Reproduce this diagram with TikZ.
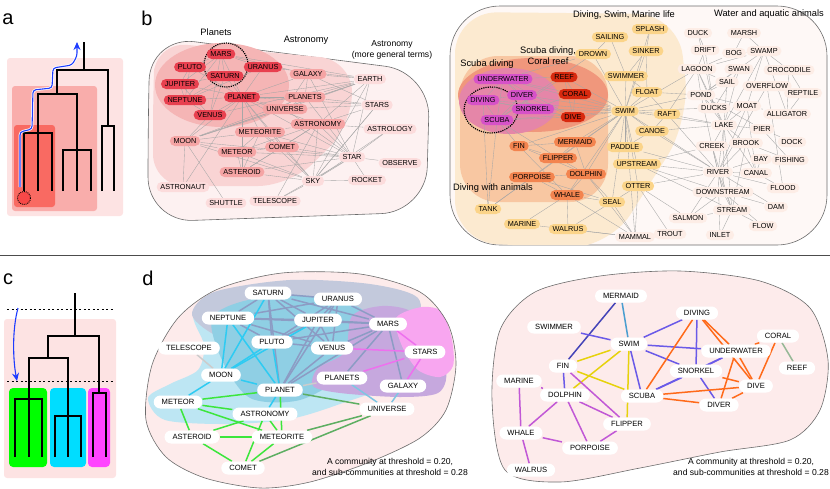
\documentclass[tikz,border=0pt]{standalone}
\usepackage{fontspec}
\setmainfont{Liberation Sans}
\usetikzlibrary{arrows.meta}

\pgfdeclarelayer{regions}
\pgfdeclarelayer{links}
\pgfsetlayers{regions,links,main}

\definecolor{aOuter}{HTML}{FDE3E3}
\definecolor{aMid}{HTML}{F9ADAB}
\definecolor{aInner}{HTML}{F96A62}
\definecolor{aLeaf}{HTML}{F84848}
\definecolor{arrowblue}{HTML}{1E3CFF}
\definecolor{cGreen}{HTML}{00FF00}
\definecolor{cCyan}{HTML}{00DDFF}
\definecolor{cMag}{HTML}{FF44FF}
\definecolor{plDark}{HTML}{E8404F}
\definecolor{plMid}{HTML}{F5A4A4}
\definecolor{plLight}{HTML}{FCDCDC}
\definecolor{rgOuterL}{HTML}{FDF1F1}
\definecolor{rgMidL}{HTML}{F9D4D4}
\definecolor{rgDarkL}{HTML}{F5B5B5}
\definecolor{scMag}{HTML}{D652C8}
\definecolor{scRed}{HTML}{D8290F}
\definecolor{scOrange}{HTML}{F3844F}
\definecolor{scPeach}{HTML}{FBD489}
\definecolor{scLight}{HTML}{FDEDE6}
\definecolor{rgOuterR}{HTML}{FEF8F6}
\definecolor{rgSwim}{HTML}{FCEAD0}
\definecolor{rgAnimal}{HTML}{F8C7A2}
\definecolor{rgReef}{HTML}{F0977C}
\definecolor{rgScuba}{HTML}{E586A8}
\definecolor{dPink}{HTML}{FDEBEB}
\definecolor{dCyan}{HTML}{BDE6F3}
\definecolor{dBlue}{HTML}{8FCFE4}
\definecolor{dGray}{HTML}{C3C9DC}
\definecolor{dMag}{HTML}{F8A6F0}
\definecolor{dPurple}{HTML}{C6A8DE}
\definecolor{eGrayBlue}{HTML}{8C9CC4}
\definecolor{eCyan}{HTML}{2ECBF2}
\definecolor{eLtBlue}{HTML}{7EC6E2}
\definecolor{eGreen}{HTML}{3CE63C}
\definecolor{eDkGreen}{HTML}{5DAE62}
\definecolor{eMag}{HTML}{EE70EE}
\definecolor{eViolet}{HTML}{6A5AE8}
\definecolor{eYellow}{HTML}{E6D20C}
\definecolor{eOrange}{HTML}{FF6A1A}
\definecolor{eMauve}{HTML}{C158D6}
\definecolor{eSteel}{HTML}{4A9ED0}
\definecolor{eNavy}{HTML}{4444B8}
\definecolor{eSage}{HTML}{96B896}

\tikzset{
  wnode/.style={font=\fontsize{7.3}{8}\selectfont, rounded corners=5pt, inner xsep=3.8pt, inner ysep=2.4pt, text height=5.2pt, text depth=0pt},
  planetnode/.style={wnode, fill=plDark},
  astronode/.style={wnode, fill=plMid},
  skynode/.style={wnode, fill=plLight},
  scubanode/.style={wnode, fill=scMag},
  reefnode/.style={wnode, fill=scRed},
  animalnode/.style={wnode, fill=scOrange},
  swimnode/.style={wnode, fill=scPeach},
  waternode/.style={wnode, fill=scLight},
  dnode/.style={font=\fontsize{7.6}{9}\selectfont, fill=white, rounded corners=6.5pt, inner xsep=8pt, inner ysep=3.7pt, text height=5.6pt, text depth=0pt},
  link/.style={draw=gray!70, line width=0.35pt},
  blob/.style={draw=gray!85!black, line width=0.6pt},
  lbl/.style={font=\fontsize{9.3}{11}\selectfont, align=center, inner sep=0pt},
  letter/.style={font=\fontsize{20}{22}\selectfont, inner sep=0pt},
  tree/.style={line width=2pt},
  cut/.style={line width=0.8pt, dash pattern=on 2pt off 2.5pt},
  thin link/.style={line width=1.5pt},
}

\begin{document}
\begin{tikzpicture}[x=1pt, y=-1pt]
\useasboundingbox (0,0) rectangle (830,488);

% ---------------- a
\node[letter] (la) at (8,19) {a};
\fill[aOuter, rounded corners=3pt] (7,58) rectangle (123,216);
\fill[aMid, rounded corners=3pt] (12,86) rectangle (97,211);
\fill[aInner, rounded corners=3pt] (14,125) rectangle (55,207);
\draw[tree] (84,42) -- (84,70);
\draw[tree] (57,94) -- (57,70) -- (108,70) -- (108,126);
\draw[tree] (102,191) -- (102,126) -- (114,126) -- (114,191);
\draw[tree] (38,133) -- (38,94) -- (77,94) -- (77,191);
\draw[tree] (24,191) -- (24,133) -- (52,133) -- (52,191);
\draw[tree] (38,133) -- (38,191);
\draw[tree] (63,191) -- (63,150) -- (91,150) -- (91,191);
\draw[densely dotted, line width=0.9pt, fill=aLeaf] (24,198) circle (6.5);
\draw[white, line width=2.6pt, rounded corners=3pt] (20,187) -- (20,132) -- (32,129) -- (33,90) -- (52,88) -- (53,68) -- (72,65) -- (77,56) -- (77,49);
\draw[arrowblue, line width=1.1pt, rounded corners=3pt, -{Stealth[length=8pt, width=7pt]}] (20,187) -- (20,132) -- (32,129) -- (33,90) -- (52,88) -- (53,68) -- (72,65) -- (77,56) -- (77,42);

% ---------------- c
\draw[gray!60!black, line width=1pt] (0,255) -- (830,255);
\node[letter] (lc) at (8,279) {c};
\fill[aOuter, rounded corners=3pt] (4,319) rectangle (116,478);
\fill[cGreen, rounded corners=4pt] (9,388) rectangle (47,467);
\fill[cCyan, rounded corners=4pt] (50,388) rectangle (86,467);
\fill[cMag, rounded corners=4pt] (88,388) rectangle (110,467);
\draw[cut] (7,309) -- (113,309);
\draw[cut] (7,381) -- (113,381);
\draw[tree] (75,293) -- (75,336);
\draw[tree] (48,358) -- (48,336) -- (99,336) -- (99,393);
\draw[tree] (93,457) -- (93,393) -- (106,393) -- (106,457);
\draw[tree] (68,416) -- (68,358) -- (29,358) -- (29,399);
\draw[tree] (55,457) -- (55,416) -- (81,416) -- (81,457);
\draw[tree] (68,416) -- (68,457);
\draw[tree] (15,457) -- (15,399) -- (42,399) -- (42,457);
\draw[tree] (29,399) -- (29,457);
\draw[arrowblue, line width=1.1pt, -{Stealth[length=8pt, width=7pt]}] (18,308) .. controls (12,330) and (13,360) .. (17,381);

% ---------------- b, astronomy
\node[letter] (lb) at (147,18) {b};
\begin{pgfonlayer}{regions}
  \path[fill=rgOuterL, blob, rounded corners=45pt] (148,130) -- (150,36) -- (430,72) -- (426,212) -- (148,222) -- cycle;
  \fill[rgMidL, rounded corners=32pt] (153,100) -- (155,42) -- (352,60) -- (352,125) -- (290,186) -- (153,186) -- cycle;
  \fill[rgDarkL] (222,85) ellipse (67 and 42);
  \draw[densely dotted, line width=1.2pt] (226,65) circle (22);
\end{pgfonlayer}
\node[lbl] (tplanets) at (216,32) {Planets};
\node[lbl] (tastro) at (306,40) {Astronomy};
\node[lbl, font=\fontsize{8.6}{10.5}\selectfont] (tgeneral) at (392,50) {Astronomy\\(more general terms)};

\node[planetnode] (mars) at (221,54) {MARS};
\node[planetnode] (pluto) at (190,67) {PLUTO};
\node[planetnode] (saturn) at (225,76) {SATURN};
\node[planetnode] (uranus) at (263,67) {URANUS};
\node[planetnode] (jupiter) at (180,84) {JUPITER};
\node[planetnode] (neptune) at (185,100) {NEPTUNE};
\node[planetnode] (planet) at (242,97) {PLANET};
\node[planetnode] (venus) at (210,115) {VENUS};
\node[astronode] (galaxy) at (308,74) {GALAXY};
\node[astronode] (planets) at (305,97) {PLANETS};
\node[astronode] (universe) at (285,109) {UNIVERSE};
\node[astronode] (astronomy) at (318,124) {ASTRONOMY};
\node[astronode] (meteorite) at (260,132) {METEORITE};
\node[astronode] (moon) at (185,141) {MOON};
\node[astronode] (comet) at (282,147) {COMET};
\node[astronode] (meteor) at (237,152) {METEOR};
\node[astronode] (asteroid) at (242,172) {ASTEROID};
\node[skynode] (earth) at (370,79) {EARTH};
\node[skynode] (stars) at (377,105) {STARS};
\node[skynode] (astrology) at (390,129) {ASTROLOGY};
\node[skynode] (star) at (352,157) {STAR};
\node[skynode] (observe) at (400,163) {OBSERVE};
\node[skynode] (sky) at (313,181) {SKY};
\node[skynode] (rocket) at (367,180) {ROCKET};
\node[skynode] (astronaut) at (183,187) {ASTRONAUT};
\node[skynode] (shuttle) at (226,203) {SHUTTLE};
\node[skynode] (telescope) at (275,201) {TELESCOPE};

\begin{pgfonlayer}{links}
\foreach \a/\b in {mars/saturn, mars/pluto, mars/uranus, mars/jupiter, mars/planet, mars/neptune, mars/venus, mars/earth, mars/galaxy,
  saturn/pluto, saturn/uranus, saturn/jupiter, saturn/neptune, saturn/planet, saturn/venus,
  pluto/jupiter, pluto/neptune, pluto/planet, uranus/planet, uranus/neptune, uranus/earth,
  jupiter/neptune, jupiter/planet, jupiter/venus, neptune/planet, neptune/venus,
  venus/planet, venus/earth, venus/moon,
  planet/earth, planet/stars, planet/galaxy, planet/universe, planet/planets, planet/meteorite, planet/comet, planet/astronomy, planet/moon, planet/star, planet/sky, planet/asteroid,
  galaxy/earth, galaxy/stars, galaxy/universe, galaxy/planets, galaxy/star,
  planets/earth, planets/stars, planets/universe, planets/star, planets/moon,
  universe/earth, universe/stars, universe/star, universe/moon,
  earth/moon, earth/star, earth/sky, earth/astronomy, stars/astronomy, stars/sky,
  astronomy/star, astronomy/sky, astronomy/comet, astronomy/meteor, astronomy/meteorite, astronomy/asteroid, astronomy/astrology,
  meteorite/meteor, meteorite/comet, meteorite/asteroid, meteorite/moon, meteorite/sky, meteorite/star,
  moon/meteor, moon/astronaut, moon/shuttle, moon/star, moon/sky, moon/earth,
  comet/meteor, comet/asteroid, comet/star, comet/sky, meteor/asteroid, meteor/star, meteor/sky,
  asteroid/star, asteroid/sky, star/sky, star/observe, star/rocket, star/telescope, star/astrology,
  sky/rocket, sky/telescope, sky/stars, sky/astrology, astronaut/planet, telescope/astronomy}
  \draw[link] (\a) -- (\b);
\end{pgfonlayer}

% ---------------- b, water
\begin{pgfonlayer}{regions}
  \path[fill=rgOuterR, blob, rounded corners=50pt] (450,130) -- (450,6) -- (827,6) -- (827,245) -- (450,245) -- cycle;
  \begin{scope}
    \clip[rounded corners=50pt] (450,130) -- (450,6) -- (827,6) -- (827,245) -- (450,245) -- cycle;
    \fill[rgSwim, rounded corners=42pt] (455,130) -- (455,12) -- (678,14) -- (690,120) -- (608,250) -- (455,242) -- cycle;
  \end{scope}
  \fill[rgAnimal, rounded corners=38pt] (460,120) -- (460,56) -- (608,56) -- (608,202) -- (460,202) -- cycle;
  \fill[rgReef] (533,95) ellipse (75 and 37);
  \fill[rgScuba] (509,101) ellipse (50 and 33);
  \draw[densely dotted, line width=1.2pt] (491,110) ellipse (27 and 23);
\end{pgfonlayer}
\node[lbl] (tswim) at (624,15) {Diving, Swim, Marine life};
\node[lbl] (twater) at (769,14) {Water and aquatic animals};
\node[lbl] (treef) at (548,56) {Scuba diving,\\Coral reef};
\node[lbl] (tscuba) at (487,64) {Scuba diving};
\node[lbl] (tanimals) at (493,188) {Diving with animals};

\node[scubanode] (underwater) at (503,79) {UNDERWATER};
\node[scubanode] (diver) at (522,95) {DIVER};
\node[scubanode] (diving) at (483,100) {DIVING};
\node[scubanode] (snorkel) at (533,109) {SNORKEL};
\node[scubanode] (scuba) at (497,120) {SCUBA};
\node[reefnode] (reef) at (564,77) {REEF};
\node[reefnode] (coral) at (575,94) {CORAL};
\node[reefnode] (dive) at (573,117) {DIVE};
\node[animalnode] (fin) at (519,146) {FIN};
\node[animalnode] (mermaid) at (575,142) {MERMAID};
\node[animalnode] (flipper) at (558,158) {FLIPPER};
\node[animalnode] (porpoise) at (532,177) {PORPOISE};
\node[animalnode] (dolphin) at (586,174) {DOLPHIN};
\node[animalnode] (whale) at (567,195) {WHALE};
\node[swimnode] (sailing) at (610,37) {SAILING};
\node[swimnode] (drown) at (593,54) {DROWN};
\node[swimnode] (splash) at (650,29) {SPLASH};
\node[swimnode] (sinker) at (646,51) {SINKER};
\node[swimnode] (swimmer) at (626,76) {SWIMMER};
\node[swimnode] (float) at (647,92) {FLOAT};
\node[swimnode] (swim) at (625,111) {SWIM};
\node[swimnode] (raft) at (667,114) {RAFT};
\node[swimnode] (canoe) at (652,131) {CANOE};
\node[swimnode] (paddle) at (625,147) {PADDLE};
\node[swimnode] (upstream) at (637,164) {UPSTREAM};
\node[swimnode] (otter) at (638,186) {OTTER};
\node[swimnode] (seal) at (612,202) {SEAL};
\node[swimnode] (tank) at (488,209) {TANK};
\node[swimnode] (marine) at (522,224) {MARINE};
\node[swimnode] (walrus) at (568,229) {WALRUS};
\node[waternode] (mammal) at (635,237) {MAMMAL};
\node[waternode] (trout) at (670,234) {TROUT};
\node[waternode] (salmon) at (688,218) {SALMON};
\node[waternode] (inlet) at (720,235) {INLET};
\node[waternode] (stream) at (732,210) {STREAM};
\node[waternode] (flow) at (763,226) {FLOW};
\node[waternode] (dam) at (776,207) {DAM};
\node[waternode] (downstream) at (723,192) {DOWNSTREAM};
\node[waternode] (flood) at (783,188) {FLOOD};
\node[waternode] (river) at (718,172) {RIVER};
\node[waternode] (canal) at (756,173) {CANAL};
\node[waternode] (bay) at (761,159) {BAY};
\node[waternode] (fishing) at (790,160) {FISHING};
\node[waternode] (creek) at (712,146) {CREEK};
\node[waternode] (brook) at (746,143) {BROOK};
\node[waternode] (dock) at (792,142) {DOCK};
\node[waternode] (pier) at (762,129) {PIER};
\node[waternode] (lake) at (724,125) {LAKE};
\node[waternode] (alligator) at (787,114) {ALLIGATOR};
\node[waternode] (ducks) at (714,108) {DUCKS};
\node[waternode] (moat) at (747,106) {MOAT};
\node[waternode] (pond) at (701,95) {POND};
\node[waternode] (overflow) at (767,86) {OVERFLOW};
\node[waternode] (reptile) at (803,93) {REPTILE};
\node[waternode] (sail) at (727,82) {SAIL};
\node[waternode] (swan) at (739,69) {SWAN};
\node[waternode] (crocodile) at (789,70) {CROCODILE};
\node[waternode] (lagoon) at (697,69) {LAGOON};
\node[waternode] (drift) at (705,50) {DRIFT};
\node[waternode] (bog) at (734,53) {BOG};
\node[waternode] (swamp) at (764,51) {SWAMP};
\node[waternode] (duck) at (698,33) {DUCK};
\node[waternode] (marsh) at (744,33) {MARSH};

\begin{pgfonlayer}{links}
\foreach \a/\b in {swim/swimmer, swim/float, swim/raft, swim/canoe, swim/paddle, swim/upstream, swim/dive, swim/snorkel, swim/diver, swim/underwater, swim/scuba, swim/diving, swim/fin, swim/mermaid, swim/flipper, swim/dolphin, swim/whale, swim/seal, swim/otter, swim/drown, swim/sinker, swim/splash, swim/pond, swim/lake, swim/river, swim/lagoon, swim/ducks, swim/mammal, swim/tank, swim/coral, swim/reef,
  sailing/swimmer, sailing/drown, splash/sinker, sinker/swimmer, sinker/float, drown/scuba, drown/underwater, swimmer/float,
  underwater/diver, underwater/diving, underwater/snorkel, underwater/scuba, underwater/reef, underwater/coral, underwater/dive,
  diver/diving, diver/scuba, diver/snorkel, diver/dive, diving/scuba, diving/snorkel, diving/dive, diving/tank,
  snorkel/scuba, snorkel/dive, snorkel/coral, scuba/dive, scuba/tank, scuba/fin, scuba/flipper, scuba/reef,
  reef/coral, coral/dive, reef/dive, fin/flipper, fin/dolphin, fin/whale, fin/mermaid, mermaid/dolphin, mermaid/flipper,
  flipper/dolphin, flipper/porpoise, porpoise/dolphin, porpoise/whale, porpoise/seal, porpoise/tank,
  dolphin/whale, dolphin/seal, dolphin/mammal, whale/marine, whale/walrus, whale/seal, whale/mammal,
  seal/walrus, seal/mammal, seal/otter, otter/mammal, otter/trout, otter/river, otter/salmon, walrus/mammal, marine/mammal,
  raft/canoe, raft/float, raft/lagoon, raft/river, raft/lake, canoe/river, canoe/lake, canoe/paddle, paddle/river,
  upstream/river, upstream/downstream, upstream/stream, upstream/creek, float/pond,
  duck/drift, duck/ducks, drift/lagoon, drift/ducks, marsh/bog, marsh/swamp, bog/swamp, bog/lagoon, swamp/lagoon,
  swamp/crocodile, swamp/alligator, swamp/moat, swamp/lake, swamp/pond, swan/ducks, swan/lake, swan/pond,
  lagoon/pond, lagoon/lake, lagoon/ducks, lagoon/sail, sail/pond, sail/lake, crocodile/reptile, crocodile/alligator,
  reptile/alligator, overflow/flood, overflow/river, pond/lake, pond/ducks, pond/moat, pond/creek, pond/pier,
  ducks/lake, moat/lake, moat/river, moat/canal, moat/alligator, lake/river, lake/pier, lake/creek, lake/brook,
  lake/stream, lake/downstream, lake/canal, pier/dock, pier/fishing, brook/river, brook/creek, brook/stream,
  brook/fishing, brook/canal, creek/river, creek/stream, creek/downstream, river/canal, river/downstream,
  river/stream, river/flood, river/dam, river/bay, river/salmon, river/inlet, downstream/stream, downstream/dam,
  downstream/flow, downstream/salmon, stream/flow, stream/inlet, canal/flood, bay/canal, stream/salmon}
  \draw[link] (\a) -- (\b);
\end{pgfonlayer}

% ---------------- d, astronomy
\node[letter] (ld) at (148,278) {d};
\begin{pgfonlayer}{regions}
  \path[fill=dPink] plot[smooth cycle] coordinates {(146,420) (152,365) (178,318) (218,289) (282,273) (360,274) (420,292) (448,324) (456,365) (446,410) (420,438) (370,462) (310,482) (260,488) (205,478) (166,457)};
  \begin{scope}
    \clip plot[smooth cycle] coordinates {(146,420) (152,365) (178,318) (218,289) (282,273) (360,274) (420,292) (448,324) (456,365) (446,410) (420,438) (370,462) (310,482) (260,488) (205,478) (166,457)};
    \fill[dCyan] plot[smooth cycle] coordinates {(148,398) (170,384) (198,370) (204,345) (194,312) (238,289) (330,282) (402,300) (420,340) (400,380) (340,404) (290,419) (230,424) (165,420)};
    \fill[dGray] plot[smooth cycle] coordinates {(192,315) (214,292) (290,280) (370,284) (418,298) (412,330) (350,345) (280,345) (222,338)};
    \fill[dBlue] plot[smooth cycle] coordinates {(212,318) (248,300) (310,296) (360,308) (380,338) (350,372) (300,400) (250,398) (222,360)};
    \fill[dPurple] plot[smooth cycle] coordinates {(352,316) (382,306) (412,312) (428,340) (446,372) (438,393) (400,397) (340,393) (313,386) (318,368) (345,352)};
    \fill[dMag] plot[smooth cycle] coordinates {(396,318) (422,307) (442,312) (452,340) (453,366) (440,377) (418,370) (402,346)};
  \end{scope}
  \draw[blob] plot[smooth cycle] coordinates {(146,420) (152,365) (178,318) (218,289) (282,273) (360,274) (420,292) (448,324) (456,365) (446,410) (420,438) (370,462) (310,482) (260,488) (205,478) (166,457)};
\end{pgfonlayer}
\node[dnode] (dsaturn) at (268,293) {SATURN};
\node[dnode] (duranus) at (338,299) {URANUS};
\node[dnode] (dneptune) at (228,318) {NEPTUNE};
\node[dnode] (djupiter) at (318,320) {JUPITER};
\node[dnode] (dmars) at (388,324) {MARS};
\node[dnode] (dpluto) at (272,342) {PLUTO};
\node[dnode] (dvenus) at (332,348) {VENUS};
\node[dnode] (dtelescope) at (189,348) {TELESCOPE};
\node[dnode] (dstars) at (425,352) {STARS};
\node[dnode] (dmoon) at (221,375) {MOON};
\node[dnode] (dplanets) at (342,378) {PLANETS};
\node[dnode] (dplanet) at (280,390) {PLANET};
\node[dnode] (dgalaxy) at (403,386) {GALAXY};
\node[dnode] (dmeteor) at (178,402) {METEOR};
\node[dnode] (dastronomy) at (265,414) {ASTRONOMY};
\node[dnode] (duniverse) at (387,409) {UNIVERSE};
\node[dnode] (dasteroid) at (192,437) {ASTEROID};
\node[dnode] (dmeteorite) at (282,437) {METEORITE};
\node[dnode] (dcomet) at (243,468) {COMET};
\node[lbl, font=\fontsize{8.6}{10.5}\selectfont] (dnote) at (390,467) {A community at threshold = 0.20,\\and sub-communities at threshold = 0.28};

\begin{pgfonlayer}{links}
\foreach \a/\b in {dsaturn/duranus, dsaturn/dneptune, dsaturn/djupiter, dsaturn/dmars, dsaturn/dpluto, dsaturn/dvenus, dsaturn/dplanet,
  duranus/dneptune, duranus/djupiter, duranus/dmars, duranus/dpluto, duranus/dvenus, duranus/dplanet,
  dneptune/djupiter, dneptune/dpluto, dneptune/dvenus, dneptune/dmars, djupiter/dmars, djupiter/dpluto, djupiter/dvenus, djupiter/dplanet,
  dmars/dpluto, dmars/dvenus, dmars/dplanet, dpluto/dvenus, dvenus/dplanet, dmars/dplanets, dmars/dgalaxy}
  \draw[thin link, eGrayBlue] (\a) -- (\b);
\foreach \a/\b in {dmoon/dplanet, dmoon/dpluto, dmoon/dneptune, dmoon/dsaturn, dmoon/djupiter, dmoon/dmeteor, dneptune/dplanet, dpluto/dplanet, dplanet/dastronomy}
  \draw[thin link, eCyan] (\a) -- (\b);
\foreach \a/\b in {dplanets/duniverse, dgalaxy/duniverse}
  \draw[thin link, eLtBlue] (\a) -- (\b);
\foreach \a/\b in {dmeteor/dplanet, dmeteor/dastronomy, dmeteor/dasteroid, dmeteor/dmeteorite, dasteroid/dastronomy, dasteroid/dmeteorite,
  dasteroid/dcomet, dmeteorite/dcomet, dastronomy/dcomet, dmeteorite/dplanet, dastronomy/dmeteorite}
  \draw[thin link, eGreen] (\a) -- (\b);
\foreach \a/\b in {duniverse/dcomet, duniverse/dmeteorite, dplanet/duniverse}
  \draw[thin link, eDkGreen] (\a) -- (\b);
\foreach \a/\b in {dmars/dstars, dvenus/dstars, dplanets/dstars, dgalaxy/dstars}
  \draw[thin link, eMag] (\a) -- (\b);
\foreach \a/\b in {dtelescope/dmoon, dplanets/dplanet}
  \draw[thin link, gray!40] (\a) -- (\b);
\end{pgfonlayer}

% ---------------- d, water
\begin{pgfonlayer}{regions}
  \path[fill=dPink, blob] plot[smooth cycle] coordinates {(492,400) (500,330) (535,292) (600,276) (680,271) (760,281) (810,308) (828,360) (820,410) (790,440) (720,452) (640,468) (560,482) (505,470)};
\end{pgfonlayer}
\node[dnode] (rmermaid) at (621,296) {MERMAID};
\node[dnode] (rswimmer) at (554,327) {SWIMMER};
\node[dnode] (rdiving) at (697,313) {DIVING};
\node[dnode] (rswim) at (629,344) {SWIM};
\node[dnode] (rcoral) at (778,336) {CORAL};
\node[dnode] (runderwater) at (736,351) {UNDERWATER};
\node[dnode] (rreef) at (797,368) {REEF};
\node[dnode] (rfin) at (563,366) {FIN};
\node[dnode] (rsnorkel) at (696,371) {SNORKEL};
\node[dnode] (rdive) at (756,386) {DIVE};
\node[dnode] (rmarine) at (519,381) {MARINE};
\node[dnode] (rscuba) at (642,396) {SCUBA};
\node[dnode] (rdolphin) at (565,395) {DOLPHIN};
\node[dnode] (rdiver) at (719,405) {DIVER};
\node[dnode] (rflipper) at (627,424) {FLIPPER};
\node[dnode] (rwhale) at (521,433) {WHALE};
\node[dnode] (rporpoise) at (590,448) {PORPOISE};
\node[dnode] (rwalrus) at (531,470) {WALRUS};
\node[lbl, font=\fontsize{8.6}{10.5}\selectfont] (rnote) at (751,467) {A community at threshold = 0.20,\\and sub-communities at threshold = 0.28};

\begin{pgfonlayer}{links}
\draw[thin link, eSteel] (rmermaid) -- (rswim);
\draw[thin link, eNavy] (rmermaid) -- (rfin);
\draw[thin link, eSage] (rcoral) -- (rreef);
\foreach \a/\b in {rswimmer/rswim, rswim/rdiving, rswim/runderwater, rswim/rsnorkel, rswim/rscuba, rdiving/rsnorkel,
  runderwater/rsnorkel, runderwater/rscuba, rsnorkel/rscuba, rsnorkel/rdiver, rfin/rdolphin}
  \draw[thin link, eViolet] (\a) -- (\b);
\foreach \a/\b in {rswim/rfin, rswim/rdolphin, rswim/rflipper, rfin/rscuba}
  \draw[thin link, eYellow] (\a) -- (\b);
\foreach \a/\b in {rdiving/runderwater, rdiving/rdive, rdiving/rscuba, rcoral/runderwater, rcoral/rdive, runderwater/rdive,
  runderwater/rdiver, rsnorkel/rdive, rscuba/rdive, rscuba/rdiver, rdive/rdiver}
  \draw[thin link, eOrange] (\a) -- (\b);
\foreach \a/\b in {rfin/rflipper, rmarine/rdolphin, rmarine/rwhale, rdolphin/rflipper, rdolphin/rwhale, rdolphin/rporpoise,
  rwhale/rporpoise, rwhale/rwalrus, rflipper/rporpoise}
  \draw[thin link, eMauve] (\a) -- (\b);
\end{pgfonlayer}
\end{tikzpicture}
\end{document}
